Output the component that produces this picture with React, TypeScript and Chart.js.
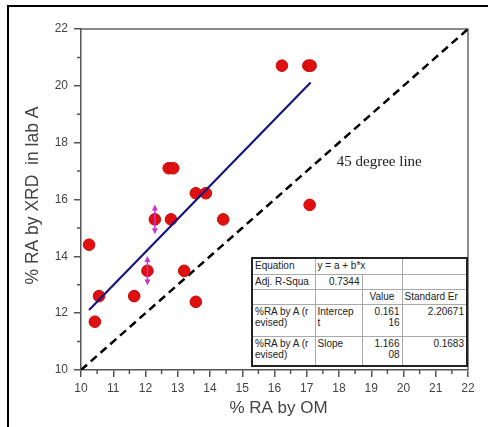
import React, { useEffect, useRef } from "react";
import { Chart, registerables } from "chart.js";

Chart.register(...registerables);

// ---- data ----
const omValues = [10.25, 10.43, 10.56, 11.65, 12.06, 12.29, 12.72, 12.86, 12.79, 13.2, 13.56, 13.87, 13.56, 14.41, 16.23, 17.05, 17.12, 17.09];
const xrdValues = [14.41, 11.7, 12.6, 12.6, 13.49, 15.3, 17.1, 17.1, 15.3, 13.49, 16.22, 16.22, 12.4, 15.3, 20.71, 20.71, 20.71, 15.81];

const fitX = [10.25, 17.12];
const fitY = [12.11, 20.12];

const diagX = [10, 22];
const diagY = [10, 22];

const errX = [12.06, 12.29];
const errY = [13.49, 15.3];
const errSize = [0.52, 0.52];

const xTickValues = [10, 11, 12, 13, 14, 15, 16, 17, 18, 19, 20, 21, 22];
const yTickValues = [10, 12, 14, 16, 18, 20, 22];
const xMinorTicks = [10.5, 11.5, 12.5, 13.5, 14.5, 15.5, 16.5, 17.5, 18.5, 19.5, 20.5, 21.5];
const yMinorTicks = [11, 13, 15, 17, 19, 21];

const annotationText = "45 degree line";
const annotationX = 17.93;
const annotationY = 17.32;

const xTitle = "% RA by OM";
const yTitle = "% RA by XRD  in lab A";

const tableRows = [
  ["Equation", "y = a + b*x", ""],
  ["Adj. R-Squa", "0.7344", "", ""],
  ["", "", "Value", "Standard Er"],
  ["%RA by A (r\nevised)", "Intercep\nt", "0.161\n16", "2.20671"],
  ["%RA by A (r\nevised)", "Slope", "1.166\n08", "0.1683"],
];

const AXIS_COLOR = "#555";

const extrasPlugin = {
  id: "extras",
  beforeDatasetsDraw(chart: any) {
    const { ctx, chartArea, scales } = chart;
    ctx.save();
    ctx.strokeStyle = "#666";
    ctx.lineWidth = 1.5;
    ctx.beginPath();
    ctx.moveTo(chartArea.left, chartArea.top);
    ctx.lineTo(chartArea.right, chartArea.top);
    ctx.lineTo(chartArea.right, chartArea.bottom);
    ctx.stroke();
    // minor ticks
    ctx.strokeStyle = AXIS_COLOR;
    ctx.lineWidth = 1.5;
    ctx.beginPath();
    xMinorTicks.forEach((v) => {
      const px = scales.x.getPixelForValue(v);
      ctx.moveTo(px, chartArea.bottom);
      ctx.lineTo(px, chartArea.bottom + 4);
    });
    yMinorTicks.forEach((v) => {
      const py = scales.y.getPixelForValue(v);
      ctx.moveTo(chartArea.left - 4, py);
      ctx.lineTo(chartArea.left, py);
    });
    ctx.stroke();
    ctx.restore();
  },
  afterDatasetsDraw(chart: any) {
    const { ctx, chartArea, scales } = chart;
    ctx.save();
    // error bars
    ctx.strokeStyle = "#cc33cc";
    ctx.fillStyle = "#cc33cc";
    ctx.lineWidth = 1.5;
    errX.forEach((xv, i) => {
      const px = scales.x.getPixelForValue(xv);
      const top = scales.y.getPixelForValue(errY[i] + errSize[i]);
      const bot = scales.y.getPixelForValue(errY[i] - errSize[i]);
      const mid = scales.y.getPixelForValue(errY[i]);
      ctx.beginPath();
      ctx.moveTo(px, top + 5);
      ctx.lineTo(px, mid);
      ctx.moveTo(px, bot - 5);
      ctx.lineTo(px, mid);
      ctx.stroke();
      ctx.beginPath();
      ctx.moveTo(px, top);
      ctx.lineTo(px - 3, top + 6);
      ctx.lineTo(px + 3, top + 6);
      ctx.closePath();
      ctx.fill();
      ctx.beginPath();
      ctx.moveTo(px, bot);
      ctx.lineTo(px - 3, bot - 6);
      ctx.lineTo(px + 3, bot - 6);
      ctx.closePath();
      ctx.fill();
    });
    // annotation
    ctx.fillStyle = "#222";
    ctx.font = '15px "Liberation Serif", "Times New Roman", serif';
    ctx.textBaseline = "middle";
    ctx.textAlign = "left";
    ctx.fillText(annotationText, scales.x.getPixelForValue(annotationX), scales.y.getPixelForValue(annotationY));
    // axis titles
    ctx.fillStyle = "#444";
    ctx.font = '17px "Liberation Sans", Arial, sans-serif';
    ctx.textAlign = "center";
    ctx.textBaseline = "middle";
    ctx.fillText(xTitle, (chartArea.left + chartArea.right) / 2 + 4, chartArea.bottom + 38);
    ctx.translate(33, (chartArea.top + chartArea.bottom) / 2 - 4);
    ctx.rotate(-Math.PI / 2);
    ctx.font = '17.5px "Liberation Sans", Arial, sans-serif';
    ctx.fillText(yTitle, 0, 0);
    ctx.restore();
  },
};

export default function App() {
  const canvasRef = useRef<HTMLCanvasElement | null>(null);

  useEffect(() => {
    const canvas = canvasRef.current;
    if (!canvas) return;
    const chart = new Chart(canvas, {
      type: "scatter",
      data: {
        datasets: [
          {
            label: "fit",
            data: fitX.map((x, i) => ({ x, y: fitY[i] })),
            showLine: true,
            borderColor: "#16167a",
            borderWidth: 2.2,
            pointRadius: 0,
            order: 0,
          },
          {
            label: "samples",
            data: omValues.map((x, i) => ({ x, y: xrdValues[i] })),
            backgroundColor: "#e01010",
            borderColor: "#c80808",
            borderWidth: 1,
            pointRadius: 5.8,
            order: 1,
          },
          {
            label: "45 degree",
            data: diagX.map((x, i) => ({ x, y: diagY[i] })),
            showLine: true,
            borderColor: "#000",
            borderWidth: 2.5,
            borderDash: [8, 5],
            pointRadius: 0,
            order: 2,
          },
        ],
      },
      options: {
        responsive: false,
        animation: false,
        layout: { padding: { left: 0, top: 29, right: 20, bottom: 0 } },
        plugins: { legend: { display: false }, tooltip: { enabled: false } },
        scales: {
          x: {
            type: "linear",
            min: 10,
            max: 22,
            afterBuildTicks: (s: any) => {
              s.ticks = xTickValues.map((v) => ({ value: v }));
            },
            afterFit: (s: any) => {
              s.height = 57;
            },
            ticks: {
              autoSkip: false,
              maxRotation: 0,
              color: "#444",
              padding: 4,
              font: { family: '"Liberation Sans", Arial, sans-serif', size: 12 },
            },
            grid: { drawOnChartArea: false, drawTicks: true, tickLength: 7, color: AXIS_COLOR, lineWidth: 1.5 },
            border: { display: true, color: AXIS_COLOR, width: 1.5 },
          },
          y: {
            type: "linear",
            min: 10,
            max: 22,
            afterBuildTicks: (s: any) => {
              s.ticks = yTickValues.map((v) => ({ value: v }));
            },
            afterFit: (s: any) => {
              s.width = 81;
            },
            ticks: {
              autoSkip: false,
              color: "#444",
              padding: 6,
              font: { family: '"Liberation Sans", Arial, sans-serif', size: 12 },
            },
            grid: { drawOnChartArea: false, drawTicks: true, tickLength: 7, color: AXIS_COLOR, lineWidth: 1.5 },
            border: { display: true, color: AXIS_COLOR, width: 1.5 },
          },
        },
      },
      plugins: [extrasPlugin],
    });
    return () => chart.destroy();
  }, []);

  const cell: React.CSSProperties = {
    border: "1px solid #aaa",
    padding: "1px 2px 0 2px",
    lineHeight: "11px",
    verticalAlign: "top",
    whiteSpace: "pre",
    overflow: "hidden",
    color: "#222",
  };
  const right: React.CSSProperties = { ...cell, textAlign: "right" };
  const rowH = [16, 15, 15, 32, 30];

  return (
    <div style={{ position: "fixed", left: 0, top: 0, width: 488, height: 427, overflow: "hidden", background: "#fff" }}>
      <div
        style={{
          position: "absolute",
          left: 7,
          top: 5,
          width: 481,
          height: 422,
          borderTop: "2px solid #000",
          borderLeft: "2px solid #000",
          boxSizing: "border-box",
        }}
      />
      <canvas ref={canvasRef} width={488} height={427} style={{ position: "absolute", left: 0, top: 0, width: 488, height: 427 }} />
      <table
        style={{
          position: "absolute",
          left: 251,
          top: 257,
          width: 215,
          height: 108,
          borderCollapse: "collapse",
          border: "2px solid #222",
          tableLayout: "fixed",
          fontFamily: '"Liberation Sans", Arial, sans-serif',
          fontSize: 10,
          color: "#222",
          background: "#fff",
        }}
      >
        <colgroup>
          <col style={{ width: 63 }} />
          <col style={{ width: 47 }} />
          <col style={{ width: 40 }} />
          <col style={{ width: 65 }} />
        </colgroup>
        <tbody>
          <tr style={{ height: rowH[0] }}>
            <td style={cell}>{tableRows[0][0]}</td>
            <td style={cell} colSpan={2}>{tableRows[0][1]}</td>
            <td style={cell}>{tableRows[0][2]}</td>
          </tr>
          <tr style={{ height: rowH[1] }}>
            <td style={cell}>{tableRows[1][0]}</td>
            <td style={right}>{tableRows[1][1]}</td>
            <td style={cell}>{tableRows[1][2]}</td>
            <td style={cell}>{tableRows[1][3]}</td>
          </tr>
          <tr style={{ height: rowH[2] }}>
            <td style={cell}>{tableRows[2][0]}</td>
            <td style={cell}>{tableRows[2][1]}</td>
            <td style={{ ...cell, textAlign: "center" }}>{tableRows[2][2]}</td>
            <td style={cell}>{tableRows[2][3]}</td>
          </tr>
          {[3, 4].map((r) => (
            <tr key={r} style={{ height: rowH[r] }}>
              <td style={cell}>{tableRows[r][0]}</td>
              <td style={cell}>{tableRows[r][1]}</td>
              <td style={right}>{tableRows[r][2]}</td>
              <td style={right}>{tableRows[r][3]}</td>
            </tr>
          ))}
        </tbody>
      </table>
    </div>
  );
}
